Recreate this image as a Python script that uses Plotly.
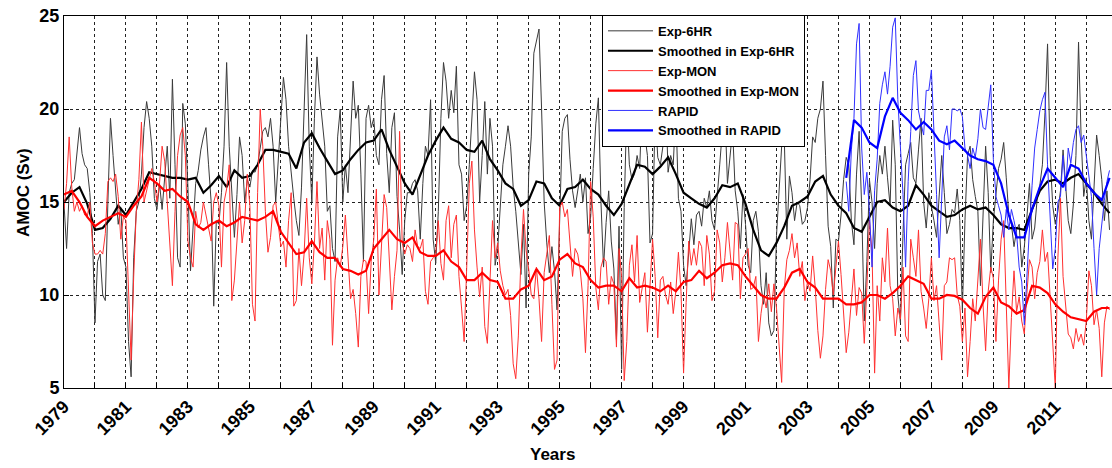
import numpy as np
import plotly.graph_objects as go

# ---------------- data ----------------
# Exp-6HR, monthly values from Jan 1979
exp6hr = [
    14.9, 12.5, 15.5, 16.0, 16.2, 17.5, 19.0, 17.6, 17.0, 16.8, 15.5, 13.3,  # 1979
    8.5, 11.8, 12.2, 10.0, 9.7, 15.0, 19.5, 17.5, 15.5, 13.8, 14.7, 12.0,    # 1980
    11.5, 7.5, 5.6, 12.0, 14.5, 15.0, 16.5, 19.0, 20.4, 19.5, 18.0, 15.2,    # 1981
    14.6, 16.0, 14.6, 16.4, 18.0, 15.2, 21.6, 17.0, 12.0, 11.5, 20.3, 19.2,  # 1982
    15.8, 11.3, 13.9, 16.0, 16.7, 17.8, 18.5, 19.0, 17.0, 15.0, 9.4, 14.0,   # 1983
    13.8, 15.5, 18.0, 22.5, 18.0, 15.4, 13.1, 15.4, 18.5, 17.5, 15.0, 16.2,  # 1984
    15.8, 16.7, 16.6, 17.0, 17.8, 18.8, 19.0, 18.5, 19.5, 18.0, 15.0, 17.0,  # 1985
    19.5, 21.7, 20.5, 18.0, 16.5, 15.2, 14.0, 13.2, 15.8, 20.5, 24.0, 18.0,  # 1986
    15.0, 19.5, 22.8, 20.8, 19.5, 18.0, 14.5, 14.8, 12.5, 11.8, 18.5, 20.0,  # 1987
    15.0, 17.0, 15.5, 18.3, 21.5, 19.5, 20.2, 16.5, 11.8, 19.5, 20.2, 19.0,  # 1988
    19.5, 17.5, 17.0, 20.5, 21.8, 17.6, 15.5, 19.0, 19.8, 15.3, 13.5, 11.1,  # 1989
    14.0, 15.5, 15.5, 16.0, 16.2, 15.6, 13.0, 16.0, 18.0, 17.5, 20.5, 13.0,  # 1990
    11.7, 14.5, 19.5, 22.5, 21.5, 19.5, 21.0, 19.8, 22.3, 17.0, 16.5, 14.0,  # 1991
    14.8, 17.0, 19.2, 22.0, 20.5, 15.0, 17.5, 20.4, 16.5, 19.5, 18.0, 11.6,  # 1992
    12.5, 15.0, 17.0, 18.0, 19.1, 18.0, 15.8, 14.5, 12.7, 11.1, 13.8, 9.3,   # 1993
    16.5, 18.5, 23.0, 23.6, 24.3, 20.0, 15.0, 12.8, 11.2, 12.6, 11.3, 9.2,   # 1994
    14.0, 18.8, 19.5, 19.7, 17.3, 15.6, 14.7, 15.5, 16.5, 15.0, 16.3, 13.3,  # 1995
    14.2, 16.8, 19.2, 20.6, 15.0, 11.5, 13.9, 15.6, 12.9, 11.4, 7.6, 13.7,   # 1996
    6.0, 14.7, 20.0, 17.0, 16.2, 16.5, 17.5, 16.8, 20.5, 18.6, 17.5, 12.8,   # 1997
    13.3, 20.0, 17.4, 17.0, 18.0, 21.0, 16.6, 17.5, 17.0, 20.0, 15.2, 14.5,  # 1998
    11.6, 10.5, 12.5, 14.1, 12.7, 14.3, 14.5, 13.7, 15.2, 14.7, 15.6, 14.0,  # 1999
    13.5, 15.5, 17.0, 18.8, 20.0, 16.0, 17.5, 18.9, 15.6, 14.5, 12.5, 15.4,  # 2000
    13.8, 11.6, 11.2, 14.0, 14.5, 13.4, 10.5, 9.5, 11.2, 8.5, 7.8, 8.1,      # 2001
    13.2, 15.5, 18.0, 18.5, 13.0, 16.4, 15.5, 14.0, 15.0, 14.8, 13.8, 14.0,  # 2002
    14.7, 16.2, 18.5, 18.2, 19.5, 20.0, 21.5, 17.5, 13.7, 12.6, 9.3, 13.0,   # 2003
    12.9, 14.3, 16.2, 17.4, 17.0, 14.0, 12.7, 16.5, 18.8, 14.7, 8.6, 11.8,   # 2004
    16.2, 15.0, 12.5, 16.0, 17.5, 16.5, 18.0, 16.3, 14.8, 19.4, 17.0, 10.0,  # 2005
    8.5, 13.3, 17.0, 17.6, 18.2, 16.3, 16.0, 17.8, 19.5, 15.0, 13.6, 15.5,   # 2006
    14.8, 14.0, 13.1, 15.6, 17.5, 15.5, 13.3, 13.8, 14.6, 14.4, 15.7, 14.0,  # 2007
    9.2, 14.0, 17.5, 18.0, 16.2, 15.3, 14.5, 10.5, 13.9, 18.0, 15.5, 11.2,   # 2008
    14.0, 15.6, 16.8, 17.3, 18.2, 16.3, 14.3, 13.8, 12.6, 13.5, 13.8, 11.5,  # 2009
    12.6, 14.2, 16.0, 13.0, 13.6, 15.2, 15.9, 17.0, 19.8, 23.5, 17.5, 14.8,  # 2010
    13.8, 14.5, 15.6, 17.8, 16.0, 14.0, 13.3, 14.9, 17.5, 23.6, 18.5, 15.3,  # 2011
    16.3, 14.0, 13.0, 15.6, 18.6, 17.5, 16.2, 14.0, 15.6, 13.5,              # 2012
]

# Exp-MON, monthly values from Jan 1979
expmon = [
    14.6, 16.0, 18.5, 15.8, 14.5, 15.0, 14.5, 14.8, 14.3, 14.2, 15.0, 12.8,  # 1979
    12.2, 12.2, 12.4, 12.2, 13.3, 16.1, 16.3, 16.1, 16.5, 15.3, 13.0, 14.2,  # 1980
    14.0, 10.3, 6.5, 11.0, 14.5, 16.2, 19.3, 15.0, 15.6, 16.2, 16.8, 16.1,   # 1981
    15.0, 16.0, 18.0, 17.2, 15.0, 12.5, 10.5, 14.5, 17.5, 18.6, 19.0, 17.5,  # 1982
    12.9, 12.0, 11.5, 14.5, 13.6, 13.9, 15.0, 14.3, 13.6, 12.9, 15.0, 15.5,  # 1983
    14.8, 11.5, 15.0, 15.7, 17.0, 9.7, 10.8, 13.0, 15.0, 12.8, 14.0, 16.5,   # 1984
    14.8, 9.5, 8.6, 15.5, 20.0, 18.0, 14.5, 12.3, 13.1, 14.8, 15.0, 13.8,    # 1985
    12.6, 12.9, 11.5, 14.0, 15.5, 9.4, 9.7, 12.5, 10.5, 12.2, 15.2, 12.0,    # 1986
    10.6, 12.8, 16.1, 12.5, 13.6, 10.8, 14.0, 13.0, 7.3, 10.8, 12.0, 11.5,   # 1987
    12.6, 14.3, 11.8, 9.8, 10.3, 9.0, 7.2, 11.0, 11.9, 11.8, 9.0, 11.8,      # 1988
    13.0, 15.7, 10.0, 12.6, 15.4, 14.7, 11.5, 9.2, 11.0, 12.4, 18.8, 12.8,   # 1989
    12.2, 12.7, 12.5, 11.8, 13.5, 12.6, 12.5, 13.0, 10.2, 9.5, 11.8, 12.0,   # 1990
    12.3, 14.0, 11.7, 10.8, 14.0, 14.8, 12.0, 13.8, 14.3, 11.0, 9.3, 7.5,    # 1991
    11.5, 16.0, 17.2, 13.5, 11.5, 9.9, 11.5, 8.3, 7.4, 10.6, 14.0, 12.0,     # 1992
    12.8, 11.3, 10.5, 10.0, 10.3, 8.9, 6.3, 5.5, 7.8, 12.0, 14.6, 12.4,      # 1993
    11.4, 10.0, 9.8, 11.5, 9.8, 7.5, 11.2, 12.2, 13.2, 9.5, 6.0, 6.5,        # 1994
    14.7, 15.0, 14.2, 14.6, 12.8, 11.0, 12.5, 12.2, 11.3, 9.8, 6.9, 10.5,    # 1995
    16.1, 14.2, 10.4, 9.2, 11.5, 12.0, 11.8, 9.5, 11.0, 10.6, 7.2, 12.5,     # 1996
    11.0, 5.4, 7.5, 11.6, 12.7, 10.7, 13.2, 9.6, 10.4, 11.2, 8.0, 10.5,      # 1997
    13.0, 11.0, 7.7, 10.8, 11.0, 10.0, 9.5, 10.7, 9.0, 10.2, 12.3, 10.2,     # 1998
    5.8, 9.6, 12.9, 11.6, 12.5, 11.6, 12.9, 12.6, 10.5, 13.2, 12.2, 9.7,     # 1999
    10.2, 13.5, 12.8, 10.7, 12.0, 13.9, 12.5, 10.8, 13.9, 13.8, 9.8, 12.0,   # 2000
    12.2, 12.5, 10.3, 10.4, 11.0, 7.5, 9.0, 10.0, 9.3, 10.6, 9.1, 10.6,      # 2001
    9.3, 7.0, 5.3, 10.3, 11.9, 12.4, 13.3, 12.0, 12.8, 11.0, 11.8, 9.7,      # 2002
    10.7, 10.2, 12.1, 10.4, 8.1, 6.6, 7.8, 10.3, 11.9, 11.3, 10.0, 11.5,     # 2003
    12.9, 11.1, 8.9, 6.9, 8.0, 9.6, 11.4, 8.9, 10.4, 10.1, 7.4, 10.4,        # 2004
    14.0, 12.3, 5.8, 10.5, 8.6, 12.0, 10.7, 13.6, 10.5, 9.8, 7.8, 9.3,       # 2005
    8.7, 11.5, 7.8, 7.5, 13.0, 12.0, 11.0, 13.5, 10.2, 9.3, 8.2, 9.8,        # 2006
    12.0, 9.7, 10.5, 8.5, 6.5, 10.5, 10.7, 12.0, 11.9, 12.0, 10.0, 9.4,      # 2007
    7.5, 9.3, 5.6, 7.5, 9.8, 8.6, 10.7, 13.0, 9.5, 7.0, 10.2, 11.5,          # 2008
    10.9, 7.5, 10.8, 13.0, 14.0, 8.8, 5.0, 8.8, 11.3, 9.1, 9.9, 8.6,         # 2009
    7.9, 10.1, 11.9, 11.5, 9.8, 11.2, 11.8, 13.5, 11.8, 12.3, 9.9, 7.0,      # 2010
    5.0, 12.0, 15.2, 11.0, 9.6, 7.9, 7.7, 7.1, 8.2, 7.5, 7.9, 7.3,           # 2011
    8.6, 11.3, 10.5, 8.4, 9.2, 8.2, 5.6, 8.5, 9.4, 9.2,                      # 2012
]

# RAPID, monthly values from Apr 2004
rapid = [
    16.1, 14.5, 17.8, 19.5, 23.5, 24.6, 17.9, 15.4, 16.6,                    # 2004 (Apr-Dec)
    14.5, 11.5, 15.6, 17.3, 20.3, 21.3, 22.0, 20.8, 22.3, 24.4, 24.9, 20.5,  # 2005
    18.0, 15.4, 11.5, 16.1, 18.8, 21.8, 22.6, 19.9, 19.2, 18.6, 21.0, 21.0,  # 2006
    22.1, 18.3, 15.4, 12.0, 15.5, 18.5, 19.1, 17.8, 20.0, 20.0, 19.9, 20.0,  # 2007
    19.6, 17.9, 17.5, 16.8, 17.9, 17.4, 18.4, 20.0, 19.0, 18.9, 20.1, 21.3,  # 2008
    17.3, 15.3, 14.8, 14.3, 13.1, 14.6, 13.5, 14.6, 14.0, 13.3, 11.5, 10.7,  # 2009
    8.4, 11.4, 13.6, 15.9, 17.9, 18.9, 19.9, 20.5, 20.9, 17.0, 14.3, 11.4,   # 2010
    12.5, 15.0, 15.3, 17.5, 15.6, 17.9, 17.1, 18.2, 18.9, 19.1, 18.2, 18.6,  # 2011
    17.5, 16.4, 15.3, 12.5, 10.0, 12.5, 14.0, 15.1, 16.1, 16.7,              # 2012
]

# Smoothed series, quarterly values
smooth_6hr = [  # from 1979.0
    15.0, 15.5, 15.8, 14.9,  13.5, 13.6, 14.1, 14.8,  14.3, 15.0, 15.7, 16.6,
    16.5, 16.4, 16.3, 16.3,  16.2, 16.3, 15.5, 15.9,  16.4, 15.8, 16.7, 16.3,
    16.4, 17.0, 17.8, 17.8,  17.7, 17.6, 16.8, 18.2,  18.7, 17.9, 17.2, 16.5,
    16.7, 17.3, 17.8, 18.2,  18.3, 18.9, 17.8, 16.9,  16.0, 15.4, 16.5, 17.5,
    18.3, 19.0, 18.4, 18.2,  17.8, 17.7, 18.3, 17.3,  16.7, 16.0, 15.7, 14.8,
    15.1, 16.1, 16.0, 15.2,  14.8, 15.7, 15.8, 16.2,  15.7, 15.4, 14.8, 14.3,
    14.9, 15.9, 17.0, 16.9,  16.5, 16.9, 17.4, 16.5,  15.5, 15.2, 14.9, 14.7,
    15.2, 15.9, 15.8, 16.0,  14.9, 13.5, 12.4, 12.1,  12.8, 13.7, 14.8, 15.0,
    15.3, 16.1, 16.4, 15.4,  14.8, 14.4, 13.6, 13.4,  14.2, 15.0, 15.1, 14.7,
    14.5, 14.8, 15.9, 15.4,  14.8, 14.5, 14.2, 14.3,  14.6, 14.8, 14.6, 14.7,
    14.3, 13.8, 13.6, 13.6,  13.5, 14.6, 15.6, 16.1,  16.2, 16.0, 16.3, 16.5,
    16.0, 15.5, 14.9, 14.4,
]
smooth_mon = [  # from 1979.0
    15.4, 15.6, 15.0, 14.2,  13.7, 14.0, 14.2, 14.4,  14.2, 14.8, 15.3, 16.3,
    16.0, 15.6, 15.7, 15.3,  15.0, 13.8, 13.5, 13.8,  14.0, 13.7, 13.9, 14.2,
    14.1, 14.0, 14.2, 14.5,  13.4, 12.8, 12.2, 12.3,  12.9, 12.3, 12.0, 12.0,
    11.4, 11.3, 11.1, 11.3,  12.5, 13.0, 13.5, 13.0,  12.8, 13.1, 12.3, 12.1,
    12.1, 12.4, 11.8, 11.5,  10.8, 10.8, 11.2, 10.8,  10.7, 9.8, 9.8, 10.3,
    10.5, 11.4, 10.8, 11.0,  11.9, 12.2, 11.7, 11.5,  10.8, 10.4, 10.5, 10.5,
    10.2, 10.9, 10.4, 10.5,  10.4, 10.2, 10.5, 10.2,  10.7, 10.8, 11.3, 10.9,
    11.2, 11.6, 11.7, 11.6,  11.0, 10.5, 10.0, 9.8,   9.8, 10.4, 11.2, 11.4,
    10.7, 10.4, 9.8, 9.8,    9.8, 9.5, 9.5, 9.6,     10.0, 10.0, 9.8, 10.1,
    10.5, 11.0, 10.8, 10.6,  9.8, 9.8, 10.0, 9.95,   9.75, 9.3, 9.0, 9.9,
    10.4, 9.6, 9.4, 9.0,     9.2, 10.5, 10.4, 10.1,  9.5, 9.1, 8.8, 8.7,
    8.6, 9.1, 9.3, 9.3,
]
smooth_rapid = [  # from 2004.25
    16.3, 19.4, 19.0,
    18.2, 17.9, 19.6, 20.6,  19.8, 19.4, 18.9, 19.3,  18.9, 18.3, 18.1, 18.3,
    17.9, 17.5, 17.3, 17.2,  17.0, 16.0, 14.3, 13.1,  13.1, 14.6, 15.8, 16.8,
    16.3, 15.8, 17.0, 16.8,  16.0, 15.5, 15.1, 16.3,
]

years = list(range(1979, 2013))
year_labels = [str(y) if (y - 1979) % 2 == 0 else "" for y in years]

# time axes (decimal years)
t_6hr = 1979 + np.arange(len(exp6hr)) / 12.0
t_mon = 1979 + np.arange(len(expmon)) / 12.0
t_rapid = 2004.25 + np.arange(len(rapid)) / 12.0
t_s6 = 1979 + np.arange(len(smooth_6hr)) * 0.25
t_sm = 1979 + np.arange(len(smooth_mon)) * 0.25
t_sr = 2004.25 + np.arange(len(smooth_rapid)) * 0.25

FONT = "Liberation Sans, Arial, Helvetica, sans-serif"

fig = go.Figure()
fig.add_trace(go.Scatter(x=t_6hr, y=exp6hr, mode="lines", name="Exp-6HR",
                         line=dict(color="#3a3a3a", width=1)))
fig.add_trace(go.Scatter(x=t_s6, y=smooth_6hr, mode="lines", name="Smoothed in Exp-6HR",
                         line=dict(color="black", width=2.2)))
fig.add_trace(go.Scatter(x=t_mon, y=expmon, mode="lines", name="Exp-MON",
                         line=dict(color="#ff3030", width=1)))
fig.add_trace(go.Scatter(x=t_sm, y=smooth_mon, mode="lines", name="Smoothed in Exp-MON",
                         line=dict(color="#ff0000", width=2.2)))
fig.add_trace(go.Scatter(x=t_rapid, y=rapid, mode="lines", name="RAPID",
                         line=dict(color="#3030ff", width=1)))
fig.add_trace(go.Scatter(x=t_sr, y=smooth_rapid, mode="lines", name="Smoothed in RAPID",
                         line=dict(color="#0000ff", width=2.2)))

fig.update_layout(
    width=1112, height=468,
    margin=dict(l=64, r=0, t=16, b=80),
    paper_bgcolor="white", plot_bgcolor="white",
    font=dict(family=FONT, color="black"),
    showlegend=True,
    legend=dict(x=(602 - 64) / 1048, y=1.003, xanchor="left", yanchor="top",
                bgcolor="white", bordercolor="black", borderwidth=1,
                itemwidth=45,
                font=dict(family=FONT, size=13, weight="bold", color="black"),
                tracegroupgap=0),
    xaxis=dict(range=[1979, 2012.83], tickmode="array", tickvals=years,
               ticktext=year_labels, tickangle=-45,
               tickfont=dict(family=FONT, size=18, weight="bold"),
               ticks="inside", ticklen=5, tickcolor="black",
               showline=True, linecolor="black", linewidth=1, mirror=True,
               showgrid=True, gridcolor="#222222", gridwidth=1, griddash="3px,3px",
               zeroline=False),
    yaxis=dict(range=[5, 25], tickmode="array", tickvals=[5, 10, 15, 20, 25],
               tickfont=dict(family=FONT, size=18, weight="bold"),
               ticks="inside", ticklen=5, tickcolor="black",
               showline=True, linecolor="black", linewidth=1, mirror=False,
               showgrid=True, gridcolor="#222222", gridwidth=1, griddash="3px,3px",
               zeroline=False),
    annotations=[
        dict(text="Years", xref="paper", yref="paper",
             x=(552 - 64) / 1048, y=(388 - 454) / 372, xanchor="center", yanchor="middle",
             showarrow=False, font=dict(family=FONT, size=17, weight="bold")),
        dict(text="AMOC (Sv)", xref="paper", yref="paper", textangle=-90,
             x=(23 - 64) / 1048, y=(388 - 193) / 372, xanchor="center", yanchor="middle",
             showarrow=False, font=dict(family=FONT, size=17, weight="bold")),
    ],
)

fig.write_html("out.html")
